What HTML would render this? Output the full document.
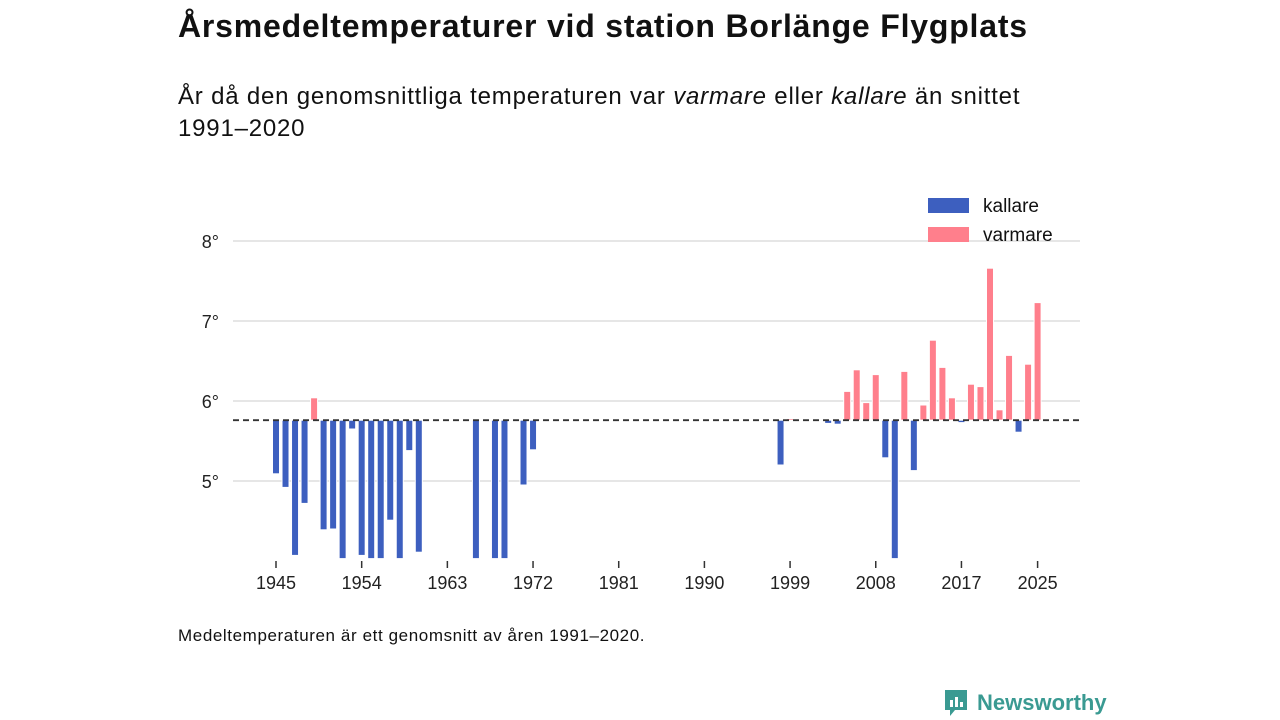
<!DOCTYPE html>
<html><head><meta charset="utf-8">
<style>
body{margin:0;width:1280px;height:720px;background:#fff;font-family:"Liberation Sans","DejaVu Sans",sans-serif;overflow:hidden;position:relative;color:#111}
#title{position:absolute;left:178px;top:8px;font-size:32px;font-weight:bold;margin:0;letter-spacing:0.8px}
#sub{position:absolute;left:178px;top:81px;font-size:24px;line-height:32px;width:870px;letter-spacing:0.8px}
#foot{position:absolute;left:178px;top:626px;font-size:17px;letter-spacing:0.6px}
#logo{position:absolute;left:943px;top:688px;font-size:22px;font-weight:bold;color:#3a9a92;display:flex;align-items:center;gap:8px}
svg{position:absolute;left:0;top:0}
</style></head><body>
<h1 id="title">Årsmedeltemperaturer vid station Borlänge Flygplats</h1>
<div id="sub">År då den genomsnittliga temperaturen var <i>varmare</i> eller <i>kallare</i> än snittet 1991–2020</div>
<svg id="chart" width="1280" height="720"></svg>
<div id="foot">Medeltemperaturen är ett genomsnitt av åren 1991–2020.</div>
<div id="logo"><svg style="position:static" width="26" height="30" viewBox="0 0 26 30"><path d="M2 2h22v20H12l-5 6v-6H2z" fill="#3a9a92"/><rect x="7" y="12" width="3" height="7" fill="#fff"/><rect x="12" y="9" width="3" height="10" fill="#fff"/><rect x="17" y="14" width="3" height="5" fill="#fff"/></svg><span>Newsworthy</span></div>
<script>
const years=[1945,1946,1947,1948,1949,1950,1951,1952,1953,1954,1955,1956,1957,1958,1959,1960,1966,1968,1969,1971,1972,1998,1999,2003,2004,2005,2006,2007,2008,2009,2010,2011,2012,2013,2014,2015,2016,2017,2018,2019,2020,2021,2022,2023,2024,2025];
const temps=[5.09,4.92,4.07,4.72,6.04,4.39,4.40,4.03,5.65,4.07,4.03,4.03,4.51,4.03,5.38,4.11,4.03,4.03,4.03,4.95,5.39,5.20,5.78,5.72,5.71,6.12,6.39,5.98,6.33,5.29,4.03,6.37,5.13,5.95,6.76,6.42,6.04,5.73,6.21,6.18,7.66,5.89,6.57,5.61,6.46,7.23];
const mean=5.76;
const yTicks=[5,6,7,8];
const xTicks=[1945,1954,1963,1972,1981,1990,1999,2008,2017,2025];
const legendLabels=["kallare","varmare"];
const svg=document.getElementById('chart');const NS="http://www.w3.org/2000/svg";
const x=v=>276+(v-1945)*9.52;
const y=v=>401-(v-6)*80;
const mk=(t,a)=>{const e=document.createElementNS(NS,t);for(const k in a)e.setAttribute(k,a[k]);svg.appendChild(e);return e;};
yTicks.forEach(t=>{
 const g=mk('line',{x1:233,x2:1080,y1:y(t),y2:y(t),stroke:'#ddd','stroke-width':1.5});
 
 
 const l=mk('text',{x:219,y:y(t)+7,'text-anchor':'end','font-size':18,fill:'#222'});l.textContent=t+'°';
 
 
});
xTicks.forEach(t=>{
 const k=mk('line',{x1:x(t),x2:x(t),y1:561,y2:568,stroke:'#333','stroke-width':1.5});
 
 
 const l=mk('text',{x:x(t),y:589,'text-anchor':'middle','font-size':18,fill:'#222'});l.textContent=t;
 
 
});
const ymin=4.03;
years.forEach((yr,i)=>{
 const v=Math.max(temps[i],ymin);const warm=v>=mean;
 const top=Math.min(y(v),y(mean)),h=Math.abs(y(v)-y(mean));
 const b=mk('rect',{x:x(yr)-3.5,y:top,width:7,height:Math.max(h,1),fill:warm?'#ff7f8c':'#3d5fbf',stroke:'#fff','stroke-width':1});
 
 
});
const d=mk('line',{x1:233,x2:1080,y1:y(mean),y2:y(mean),stroke:'#333','stroke-width':1.8,'stroke-dasharray':'6,4'});


legendLabels.forEach((lab,i)=>{
 const r=mk('rect',{x:928,y:198+i*29,width:41,height:15,fill:i?'#ff7f8c':'#3d5fbf'});
 
 
 const t=mk('text',{x:983,y:212+i*29,'font-size':19,fill:'#111'});t.textContent=lab;
 
 
});
</script>
</body></html>
